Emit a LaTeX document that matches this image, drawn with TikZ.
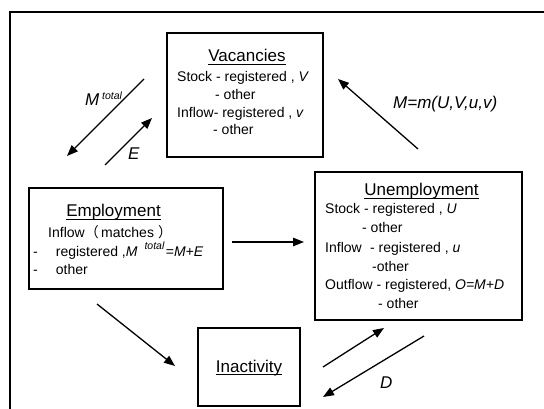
\documentclass[tikz,border=0pt]{standalone}
\usepackage{fontspec}
\setmainfont{Liberation Sans}
\newfontfamily\cjk{Noto Sans CJK SC}
\usetikzlibrary{arrows.meta}
\newcommand\bodyfont{\fontsize{14}{17}\selectfont}
\newcommand\titlefont{\fontsize{17}{20}\selectfont}
\newcommand\supfont{\fontsize{10.5}{12}\selectfont\itshape}
\begin{document}
\begin{tikzpicture}[x=1pt,y=-1pt,
		box/.style={draw,line width=1.3pt,inner sep=0pt},
		txt/.style={anchor=base west,inner sep=0pt,font=\bodyfont},
		ttl/.style={anchor=base,inner sep=0pt,font=\titlefont},
		uline/.style={line width=0.9pt},
		lbl/.style={anchor=base west,inner sep=0pt,font=\titlefont\itshape},
		flow/.style={-{Triangle[length=11pt,width=8.5pt]},line width=1.3pt}]
		\useasboundingbox (0,0) rectangle (544,409);
		\draw [line width=2pt] (10,409) -- (10,12) -- (544,12);
		\node [box,minimum width=156pt,minimum height=124pt] (vac) at (245,95) {};
		\node [box,minimum width=194pt,minimum height=101pt] (emp) at (126,238.5) {};
		\node [box,minimum width=207pt,minimum height=148pt] (unemp) at (418.5,246) {};
		\node [box,minimum width=102pt,minimum height=78pt] (inact) at (249,367) {};
		\node [ttl] (vactitle) at (247,62) {Vacancies};
		\node [txt] (vac1) at (177,82) {Stock - registered , \textit{V}};
		\node [txt] (vac2) at (215,100) {- other};
		\node [txt] (vac3) at (177,118) {Inflow- registered , \textit{v}};
		\node [txt] (vac4) at (213,135) {- other};
		\node [ttl] (emptitle) at (113.5,217) {Employment};
		\node [txt] (emp1) at (48,237) {Inflow{\cjk（}\,matches\hspace*{4pt}{\cjk）}};
		\node [txt] (emp2) at (33,256) {-\hspace*{18pt}registered ,\textit{M}\hspace*{7pt}\raisebox{6pt}{\supfont total}\hspace*{1.5pt}=\textit{M+E}};
		\node [txt] (emp3) at (33,274) {-\hspace*{18pt}other};
		\node [ttl] (unemptitle) at (421.5,196) {Unemployment};
		\node [txt] (unemp1) at (325,214) {Stock - registered , \textit{U}};
		\node [txt] (unemp2) at (362,233) {- other};
		\node [txt] (unemp3) at (325,252) {Inflow\hspace*{4.5pt} - registered , \textit{u}};
		\node [txt] (unemp4) at (372,271) {-other};
		\node [txt] (unemp5) at (325,289) {Outflow - registered, \textit{O=M+D}};
		\node [txt] (unemp6) at (378,308) {- other};
		\node [ttl] (inacttitle) at (249,372) {Inactivity};
		\foreach \t in {vactitle,emptitle,unemptitle,inacttitle}
			\draw [uline] ([yshift=-2.5pt]\t.base west) -- ([yshift=-2.5pt]\t.base east);
		\node [lbl] (mtotlbl) at (85,106) {M\,\raisebox{6pt}{\supfont total}};
		\node [lbl] (elbl) at (128,160) {E};
		\node [lbl] (mlbl) at (393,109) {M=m(U,V,u,v)};
		\node [lbl] (dlbl) at (380,388) {D};
		\coordinate (mtotS) at (144,79);
		\coordinate (mtotE) at (67,156);
		\coordinate (eS) at (105,165);
		\coordinate (eE) at (152,118);
		\coordinate (mS) at (418,149);
		\coordinate (mE) at (338,79);
		\coordinate (euS) at (232,242);
		\coordinate (euE) at (304,242);
		\coordinate (eiS) at (97,304);
		\coordinate (eiE) at (175,366);
		\coordinate (iuS) at (323,367);
		\coordinate (iuE) at (384,328);
		\coordinate (dS) at (424,336);
		\coordinate (dE) at (323,397);
		\draw [flow] (mtotS) -- (mtotE);
		\draw [flow] (eS) -- (eE);
		\draw [flow] (mS) -- (mE);
		\draw [flow] (euS) -- (euE);
		\draw [flow] (eiS) -- (eiE);
		\draw [flow] (iuS) -- (iuE);
		\draw [flow] (dS) -- (dE);
\end{tikzpicture}
\end{document}
